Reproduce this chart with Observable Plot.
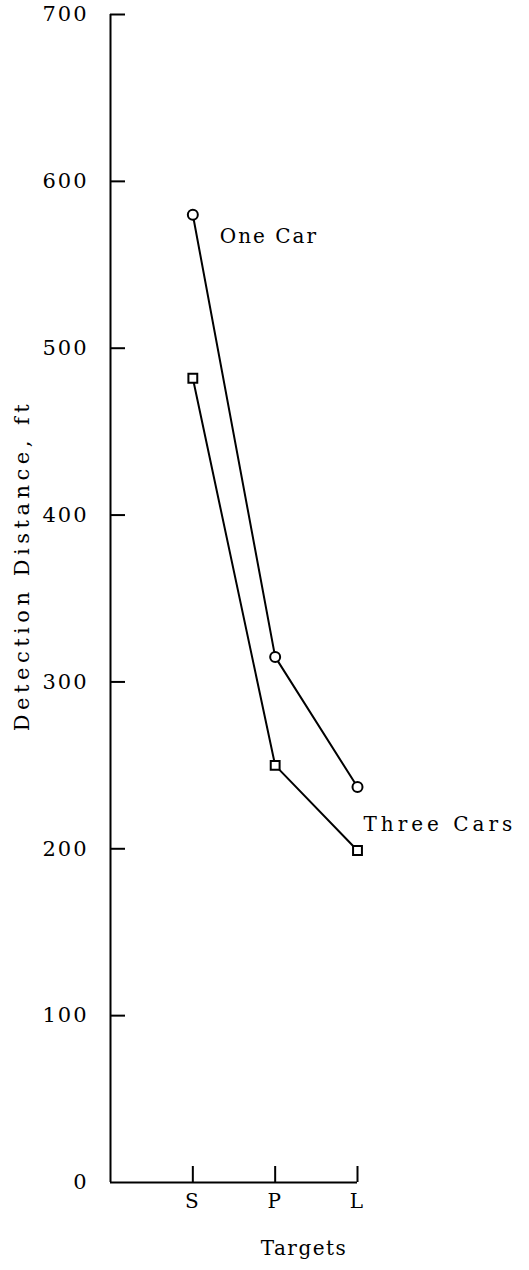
<!DOCTYPE html>
<html><head><meta charset="utf-8">
<script src="https://cdn.jsdelivr.net/npm/d3@7"></script>
<script src="https://cdn.jsdelivr.net/npm/@observablehq/plot@0.6"></script>
<style>
body{margin:0;background:#fff}
svg text{letter-spacing:2px}
</style></head><body><div id="chart"></div>
<script>
const targets = ["S", "P", "L"];
const targetPos = [1, 2, 3];
const oneCar = [580, 315, 237];
const threeCars = [482, 250, 199];
const seriesNames = ["One Car", "Three Cars"];
const yTicks = [0, 100, 200, 300, 400, 500, 600, 700];
const xLabel = "Targets";
const yLabel = "Detection Distance, ft";

const rows = [];
targets.forEach((t, i) => {
  rows.push({series: seriesNames[0], target: t, pos: targetPos[i], value: oneCar[i]});
  rows.push({series: seriesNames[1], target: t, pos: targetPos[i], value: threeCars[i]});
});
const one = rows.filter(d => d.series === seriesNames[0]);
const three = rows.filter(d => d.series === seriesNames[1]);

const font = "'DejaVu Serif', serif";
const chart = Plot.plot({
  width: 529, height: 1270,
  marginLeft: 110, marginRight: 172, marginTop: 14, marginBottom: 88,
  x: {type: "linear", domain: [0, 3]},
  y: {domain: [0, 700]},
  style: {fontFamily: font, fontSize: "20px", color: "#000", background: "#fff", overflow: "visible"},
  marks: [
    Plot.axisY(yTicks, {tickSize: 0, tickPadding: 22, fontSize: 21, label: null}),
    Plot.axisX(targetPos, {tickSize: 0, tickPadding: 11, fontSize: 20, label: null, tickFormat: d => targets[d - 1]}),
    Plot.ruleX([0], {x: d => d, y1: 0, y2: 700, stroke: "#000", strokeWidth: 2}),
    Plot.ruleY([0], {y: d => d, x1: 0, x2: 3, stroke: "#000", strokeWidth: 2}),
    Plot.ruleY(yTicks.slice(1), {y: d => d, x1: 0, x2: 0, insetRight: -15, stroke: "#000", strokeWidth: 2}),
    Plot.ruleX(targetPos, {x: d => d, y1: 0, y2: 0, insetTop: -16, stroke: "#000", strokeWidth: 2}),
    Plot.line(rows, {x: "pos", y: "value", z: "series", stroke: "#000", strokeWidth: 2}),
    Plot.dot(one, {x: "pos", y: "value", r: 5, stroke: "#000", fill: "#fff", strokeWidth: 2}),
    Plot.dot(three, {x: "pos", y: "value", r: 5, symbol: "square", stroke: "#000", fill: "#fff", strokeWidth: 2}),
    Plot.text(one.slice(0, 1), {x: "pos", y: "value", text: "series", textAnchor: "start", dx: 27, dy: 22, fontSize: 20}),
    Plot.text(three.slice(2, 3), {x: "pos", y: "value", text: "series", textAnchor: "start", dx: 6, dy: -26, fontSize: 20}),
    Plot.text([xLabel], {frameAnchor: "bottom", textAnchor: "middle", dx: 70, dy: 72, fontSize: 20}),
    Plot.text([yLabel], {frameAnchor: "left", textAnchor: "middle", dx: -88, dy: -33, rotate: -90, fontSize: 21})
  ]
});
const spacing = new Map([[seriesNames[0], "2px"], [seriesNames[1], "4px"], [yLabel, "4.5px"], [xLabel, "1.5px"]]);
d3.select(chart).selectAll("text").each(function () {
  const s = spacing.get(this.textContent);
  if (s) this.style.letterSpacing = s;
});
document.getElementById("chart").appendChild(chart);
</script>
</body></html>
